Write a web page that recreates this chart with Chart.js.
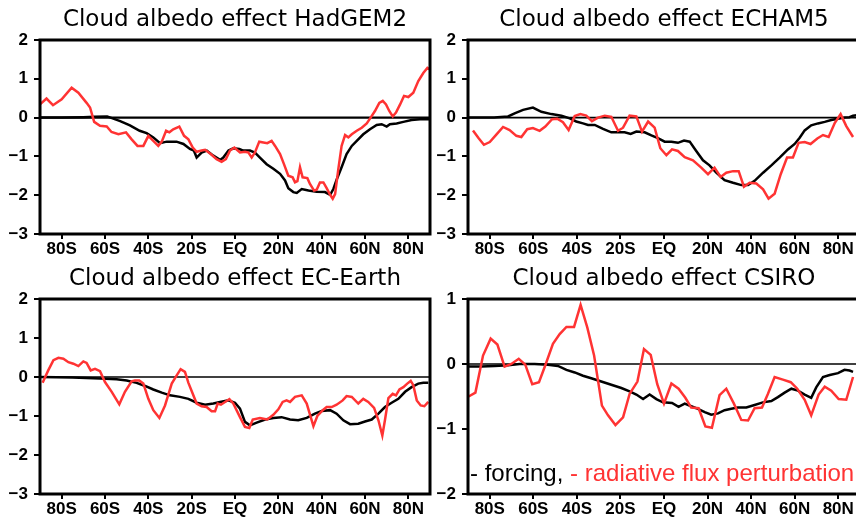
<!DOCTYPE html>
<html>
<head>
<meta charset="utf-8">
<script src="https://cdn.jsdelivr.net/npm/chart.js@4/dist/chart.umd.min.js"></script>
<style>
    html, body {
        margin: 0;
        padding: 0;
        background: #fff;
        overflow: hidden;
        width: 856px;
        height: 519px;
    }
    .panel {
        position: absolute;
    }
    .note {
        position: absolute;
        left: 470px;
        top: 461px;
        font-family: 'Liberation Sans', sans-serif;
        font-size: 24px;
        line-height: 1;
        white-space: nowrap;
    }
    .note .rad { color: #ff3333; }
</style>
</head>
<body>
<canvas id="hadgem" class="panel" width="432" height="260" style="left:0;top:0"></canvas>
<canvas id="echam" class="panel" width="434" height="260" style="left:428px;top:0"></canvas>
<canvas id="ecearth" class="panel" width="432" height="260" style="left:0;top:259px"></canvas>
<canvas id="csiro" class="panel" width="434" height="260" style="left:428px;top:259px"></canvas>
<div class="note">- forcing, <span class="rad">- radiative flux perturbation</span></div>

<script>
// Latitude axis
const xTickVals = [-80, -60, -40, -20, 0, 20, 40, 60, 80];
const xTickLabels = ['80S', '60S', '40S', '20S', 'EQ', '20N', '40N', '60N', '80N'];

// [latitude, W/m2]
const hadgemForcing = [[-90,0],[-80,0],[-70,0.01],[-65,0.02],[-59,0.03],[-53,-0.09],[-48.5,-0.2],[-44,-0.34],[-40.8,-0.4],[-37.7,-0.51],[-34.6,-0.66],[-31.5,-0.62],[-27,-0.62],[-23.8,-0.68],[-20.8,-0.81],[-19,-0.85],[-17.7,-1.03],[-15.4,-0.9],[-13,-0.85],[-10,-0.98],[-6.9,-1.09],[-5.4,-1.03],[-3,-0.85],[-0.8,-0.79],[2,-0.81],[3.8,-0.85],[6.9,-0.85],[9.2,-0.9],[11.5,-1.03],[14.6,-1.2],[17.7,-1.32],[20.8,-1.45],[23.1,-1.62],[24.6,-1.82],[26.9,-1.92],[28.5,-1.94],[30.8,-1.84],[33.9,-1.88],[37.7,-1.91],[41.5,-1.92],[43.9,-1.99],[45.4,-1.84],[46.9,-1.6],[49.2,-1.28],[51.5,-0.94],[53.9,-0.73],[56.2,-0.6],[59.2,-0.43],[62.3,-0.3],[65.4,-0.19],[67.7,-0.17],[70,-0.23],[71.5,-0.17],[74.6,-0.15],[77.7,-0.11],[81.5,-0.06],[85.4,-0.04],[90,-0.04]];
const hadgemRadiative = [[-90,0.34],[-87,0.49],[-84,0.32],[-80,0.47],[-75.4,0.77],[-72.3,0.64],[-68.5,0.38],[-66.9,0.26],[-65,-0.11],[-62.3,-0.21],[-59.2,-0.23],[-57,-0.37],[-53.8,-0.43],[-50.3,-0.38],[-47.7,-0.56],[-45,-0.73],[-42.3,-0.73],[-40,-0.47],[-37.7,-0.6],[-35.4,-0.73],[-33.8,-0.62],[-31.8,-0.34],[-30.3,-0.38],[-28.5,-0.3],[-25.7,-0.23],[-23.5,-0.47],[-21.5,-0.56],[-19.5,-0.77],[-17.7,-0.88],[-15.4,-0.85],[-13.8,-0.83],[-11.2,-0.94],[-8.5,-1.07],[-6.2,-1.14],[-4.2,-1.07],[-2.3,-0.85],[-0.3,-0.77],[2.3,-0.9],[4.6,-0.88],[6.2,-0.9],[7.7,-1.03],[9.2,-0.9],[11.2,-0.62],[13.1,-0.64],[14.9,-0.66],[16.9,-0.6],[18.5,-0.73],[20.8,-0.94],[22.6,-1.2],[24.6,-1.5],[26.6,-1.54],[27.7,-1.67],[28.8,-1.64],[30,-1.28],[31.2,-1.54],[33.4,-1.56],[34.6,-1.71],[36.5,-1.88],[37.7,-1.86],[39.2,-1.67],[40.8,-1.67],[42.3,-1.82],[43.9,-1.99],[45.1,-2.09],[46.2,-1.97],[47.7,-1.32],[49.2,-0.73],[50.8,-0.45],[52.3,-0.51],[53.9,-0.43],[56.2,-0.34],[58.5,-0.26],[60.8,-0.15],[62.6,0],[64.6,0.17],[66.6,0.38],[68.2,0.43],[69.7,0.34],[71.2,0.17],[72.8,0.03],[74.3,0.13],[76.2,0.34],[78,0.56],[80,0.53],[82.3,0.64],[84.6,0.94],[86.9,1.15],[88.8,1.28],[90,1.24]];

const echamForcing = [[-90,0],[-78,0],[-71.6,0.03],[-68.6,0.11],[-64.7,0.2],[-60.2,0.26],[-56.3,0.15],[-51.7,0.09],[-47.1,0.05],[-43.3,-0.02],[-40.3,-0.1],[-37.2,-0.15],[-34.9,-0.19],[-31.8,-0.19],[-28,-0.29],[-24.2,-0.38],[-21.1,-0.38],[-18.1,-0.38],[-15.3,-0.42],[-12.7,-0.36],[-8.9,-0.38],[-5.8,-0.46],[-2.8,-0.53],[0.3,-0.62],[3.4,-0.62],[6.4,-0.65],[9.2,-0.59],[11.8,-0.62],[14.8,-0.86],[17.9,-1.1],[20.9,-1.23],[24,-1.42],[27.8,-1.61],[31.7,-1.68],[35.5,-1.74],[38.6,-1.74],[41.6,-1.63],[45.5,-1.42],[49.3,-1.23],[53.1,-1.03],[56.9,-0.82],[60,-0.68],[62.3,-0.52],[64.6,-0.33],[67.6,-0.2],[70.7,-0.15],[73.8,-0.11],[76.8,-0.06],[79.9,-0.03],[83,0],[85.2,0.01],[86.8,0.05],[88.5,0.06]];
const echamRadiative = [[-87.7,-0.33],[-85.1,-0.53],[-82.7,-0.7],[-80,-0.63],[-77,-0.44],[-73.9,-0.24],[-70.9,-0.32],[-67.8,-0.47],[-65.5,-0.5],[-62.8,-0.3],[-60.2,-0.27],[-57.1,-0.34],[-54.5,-0.23],[-51.4,-0.04],[-49,-0.03],[-46.4,-0.12],[-43.8,-0.32],[-41,0.04],[-38.4,0.09],[-35.7,0.05],[-33.1,-0.09],[-30.3,0],[-27.2,0.05],[-24.2,0.02],[-21.1,-0.34],[-18.8,-0.26],[-15.8,0.05],[-12.7,0.03],[-10.1,-0.36],[-7.3,-0.1],[-4.3,-0.26],[-1.7,-0.79],[1.1,-0.97],[3.7,-0.82],[6.4,-0.86],[9.5,-1.02],[13.3,-1.1],[17.1,-1.29],[20.2,-1.46],[23.2,-1.29],[26,-1.53],[28.6,-1.42],[31.7,-1.38],[34.3,-1.38],[36.7,-1.78],[39.3,-1.68],[42.4,-1.7],[45.5,-1.85],[48,-2.09],[50.8,-1.96],[53.6,-1.46],[56.5,-1.03],[59.2,-1.03],[61.8,-0.65],[64.6,-0.63],[67.3,-0.68],[70.4,-0.54],[73,-0.45],[75.6,-0.5],[78.4,-0.14],[81.1,0.09],[83.7,-0.22],[86.8,-0.5]];

const ecearthForcing = [[-90,0],[-75,-0.01],[-62.3,-0.04],[-54.6,-0.06],[-50,-0.09],[-45.4,-0.15],[-41.5,-0.23],[-37.7,-0.32],[-33.8,-0.4],[-30,-0.47],[-25.4,-0.51],[-21.5,-0.56],[-17.7,-0.66],[-13.8,-0.71],[-10,-0.68],[-6.9,-0.64],[-3.1,-0.6],[0,-0.66],[2.3,-0.81],[4.6,-1.15],[6.9,-1.24],[10,-1.17],[13.9,-1.09],[17.7,-1.05],[21.5,-1.03],[25.4,-1.09],[29.2,-1.11],[33.1,-1.05],[36.9,-0.94],[40,-0.87],[43.9,-0.85],[46.9,-0.94],[50,-1.11],[53.1,-1.21],[56.9,-1.2],[60,-1.14],[63.1,-1.09],[66.2,-0.94],[69.2,-0.77],[72.3,-0.66],[75.4,-0.56],[78.5,-0.38],[81.5,-0.26],[84.6,-0.17],[86.9,-0.15],[89.2,-0.15]];
const ecearthRadiative = [[-88.8,-0.15],[-86.2,0.17],[-83.8,0.43],[-81.5,0.49],[-79.2,0.47],[-76.9,0.38],[-74.6,0.34],[-72.3,0.28],[-70,0.4],[-68.5,0.36],[-66.6,0.17],[-64.6,0.21],[-62.3,0.15],[-60,-0.13],[-56.9,-0.38],[-53.4,-0.7],[-50.8,-0.38],[-47.7,-0.11],[-46.2,-0.09],[-44.2,-0.09],[-42.3,-0.17],[-40,-0.56],[-37.7,-0.85],[-34.9,-1.05],[-32.3,-0.73],[-29.2,-0.17],[-26.9,0.04],[-25.1,0.2],[-23.1,0.13],[-21.5,-0.15],[-19.5,-0.43],[-17.7,-0.68],[-15.4,-0.75],[-13.1,-0.77],[-10.8,-0.88],[-9.2,-0.88],[-8,-0.68],[-6.5,-0.71],[-4.6,-0.64],[-2.6,-0.57],[-0.8,-0.68],[2.3,-1.03],[4.6,-1.28],[6.6,-1.31],[8.2,-1.09],[11.5,-1.05],[14.9,-1.09],[17.7,-0.97],[20,-0.83],[22,-0.64],[23.8,-0.6],[25.4,-0.64],[27.7,-0.51],[30.8,-0.47],[33.1,-0.68],[36.2,-1.26],[38,-1],[40.5,-0.85],[42.3,-0.77],[44.6,-0.77],[46.9,-0.71],[49.7,-0.6],[51.5,-0.49],[53.9,-0.51],[56.9,-0.68],[59.2,-0.56],[61.5,-0.64],[64.2,-0.79],[66.2,-1.11],[68,-1.5],[69.2,-1.11],[70.8,-0.54],[72.8,-0.43],[74.3,-0.47],[75.9,-0.32],[77.7,-0.26],[79.5,-0.17],[81.1,-0.1],[82.3,-0.21],[83.9,-0.6],[85.7,-0.73],[87.4,-0.75],[89.2,-0.64]];

const csiroForcing = [[-89.7,-0.04],[-83.9,-0.04],[-77.8,-0.03],[-71.6,-0.02],[-66.3,0],[-59.4,0],[-53.3,-0.01],[-48.7,-0.03],[-44.8,-0.09],[-41,-0.13],[-37.2,-0.18],[-33.4,-0.22],[-28.8,-0.27],[-24.2,-0.32],[-19.6,-0.37],[-15.8,-0.42],[-12.7,-0.47],[-9.6,-0.54],[-6.6,-0.47],[-3.5,-0.54],[-0.5,-0.59],[3.7,-0.6],[6.7,-0.66],[9.5,-0.61],[12.5,-0.65],[15.6,-0.69],[18.7,-0.74],[21.7,-0.78],[24.8,-0.76],[27.8,-0.71],[30.9,-0.69],[33.9,-0.67],[37.8,-0.67],[41.6,-0.63],[45.4,-0.59],[49.3,-0.57],[52.3,-0.51],[55.4,-0.44],[58.5,-0.38],[61.5,-0.41],[64.6,-0.47],[67.6,-0.52],[69.9,-0.36],[73,-0.2],[76.1,-0.17],[79.9,-0.14],[82.9,-0.09],[85.2,-0.1],[86.8,-0.12]];
const csiroRadiative = [[-89.7,-0.5],[-86.6,-0.44],[-83.1,0.13],[-79.6,0.39],[-76.5,0.3],[-73.2,-0.04],[-70.1,0],[-66.7,0.08],[-63.7,-0.01],[-60.5,-0.31],[-57.4,-0.28],[-54.5,-0.02],[-51,0.31],[-47.9,0.46],[-44.8,0.57],[-41.3,0.57],[-38.3,0.91],[-35.2,0.56],[-32.1,0.13],[-28.5,-0.64],[-25.7,-0.79],[-22.3,-0.94],[-18.8,-0.82],[-15.8,-0.46],[-12.2,-0.27],[-9.2,0.23],[-6.1,0.14],[-3.1,-0.31],[0,-0.61],[3.4,-0.3],[6.7,-0.38],[9.8,-0.52],[12.5,-0.67],[15.9,-0.68],[19,-0.96],[22,-0.98],[25.5,-0.48],[28.6,-0.38],[32.1,-0.61],[35.5,-0.86],[38.6,-0.87],[41.6,-0.68],[45,-0.67],[47.7,-0.46],[50.8,-0.2],[54.6,-0.24],[58.2,-0.28],[61.2,-0.38],[64.6,-0.55],[67.6,-0.79],[71,-0.47],[73.8,-0.35],[76.8,-0.41],[80.2,-0.54],[83.7,-0.55],[86.8,-0.2]];

const RED = '#ff3333';
const TICK_FONT = { family: "'Liberation Sans', Arial, sans-serif", size: 17, weight: 'bold' };

// Zero line + closed box around the plot area
const framePlugin = {
    id: 'frame',
    beforeDatasetsDraw(chart, args, opts) {
        const { ctx, chartArea: a, scales } = chart;
        const y0 = scales.y.getPixelForValue(0);
        ctx.save();
        ctx.strokeStyle = '#000';
        ctx.lineWidth = opts.zeroWidth || 1.5;
        ctx.beginPath();
        ctx.moveTo(a.left, y0);
        ctx.lineTo(a.right, y0);
        ctx.stroke();
        ctx.restore();
    },
    afterDatasetsDraw(chart, args, opts) {
        const { ctx, chartArea: a } = chart;
        ctx.save();
        ctx.strokeStyle = '#000';
        ctx.lineWidth = opts.frameWidth || 3;
        ctx.strokeRect(a.left, a.top, a.right - a.left, a.bottom - a.top);
        ctx.restore();
    }
};

const toPoints = (pairs) => pairs.map(([x, y]) => ({ x, y }));

function makePanel(id, title, forcing, radiative, yMin, yMax, xAxisHeight, zeroWidth) {
    const ctx = document.getElementById(id);
    return new Chart(ctx, {
        type: 'line',
        data: {
            datasets: [
                {
                    label: 'radiative flux perturbation',
                    data: toPoints(radiative),
                    borderColor: RED,
                    borderWidth: 2.5,
                    pointRadius: 0,
                    tension: 0
                },
                {
                    label: 'forcing',
                    data: toPoints(forcing),
                    borderColor: '#000',
                    borderWidth: 2.5,
                    pointRadius: 0,
                    tension: 0
                }
            ]
        },
        options: {
            responsive: false,
            animation: false,
            layout: { padding: { top: 0, left: 0, right: 2, bottom: 0 } },
            plugins: {
                legend: { display: false },
                tooltip: { enabled: false },
                title: {
                    display: true,
                    text: title,
                    fullSize: false,
                    color: '#000',
                    font: { family: "'DejaVu Sans', sans-serif", size: 23, weight: 'normal', lineHeight: 1.2 },
                    padding: { top: 6, bottom: 6.4 }
                },
                frame: { zeroWidth, frameWidth: 3 }
            },
            scales: {
                x: {
                    type: 'linear',
                    min: -90,
                    max: 90,
                    afterBuildTicks: (axis) => {
                        axis.ticks = xTickVals.map(v => ({ value: v }));
                    },
                    afterFit: (axis) => { axis.height = xAxisHeight; },
                    border: { display: false },
                    grid: { drawOnChartArea: false, drawTicks: true, tickLength: 5, color: '#000', lineWidth: 2 },
                    ticks: {
                        autoSkip: false,
                        maxRotation: 0,
                        padding: 0,
                        color: '#000',
                        font: TICK_FONT,
                        callback: (v) => xTickLabels[xTickVals.indexOf(v)]
                    }
                },
                y: {
                    min: yMin,
                    max: yMax,
                    afterFit: (axis) => { axis.width = 40; },
                    border: { display: false },
                    grid: { drawOnChartArea: false, drawTicks: true, tickLength: 6, color: '#000', lineWidth: 2 },
                    ticks: {
                        stepSize: 1,
                        padding: 6,
                        color: '#000',
                        font: TICK_FONT,
                        callback: (v) => (v < 0 ? '\u2212' + Math.abs(v) : String(v))
                    }
                }
            }
        },
        plugins: [framePlugin]
    });
}

document.addEventListener('DOMContentLoaded', () => {
    makePanel('hadgem', 'Cloud albedo effect HadGEM2', hadgemForcing, hadgemRadiative, -3, 2, 26, 2.2);
    makePanel('echam', 'Cloud albedo effect ECHAM5', echamForcing, echamRadiative, -3, 2, 26, 1.6);
    makePanel('ecearth', 'Cloud albedo effect EC-Earth', ecearthForcing, ecearthRadiative, -3, 2, 25, 1.6);
    makePanel('csiro', 'Cloud albedo effect CSIRO', csiroForcing, csiroRadiative, -2, 1, 25, 1.6);
});
</script>
</body>
</html>
